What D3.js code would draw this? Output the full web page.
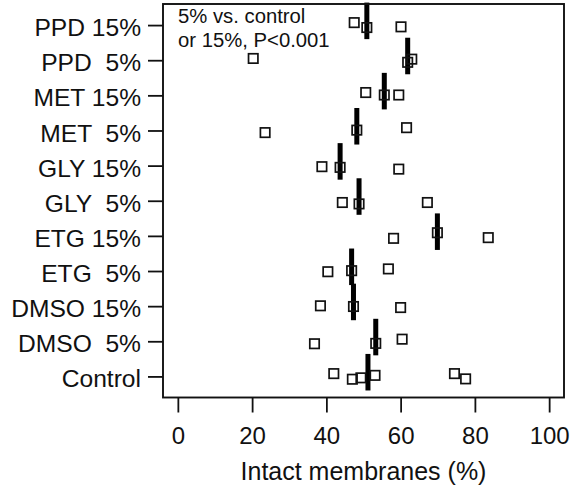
<!DOCTYPE html>
<html>
<head>
<meta charset="utf-8">
<script src="https://cdn.jsdelivr.net/npm/d3@7"></script>
<style>
  body { margin: 0; background: #fff; }
  text { font-family: "Liberation Sans", Arial, Helvetica, sans-serif; fill: #111; }
</style>
</head>
<body>
<div id="chart"></div>
<script>
// Data (bottom row first)
var groups = ["Control", "DMSO  5%", "DMSO 15%", "ETG  5%", "ETG 15%", "GLY  5%", "GLY 15%", "MET  5%", "MET 15%", "PPD  5%", "PPD 15%"];

var values = [
  [42.0, 47.0, 49.3, 53.1, 74.5, 77.5],
  [36.8, 53.3, 60.4],
  [38.4, 47.3, 60.0],
  [40.4, 46.8, 56.7],
  [58.1, 69.9, 83.6],
  [44.3, 48.8, 67.2],
  [38.8, 43.7, 59.5],
  [23.5, 48.2, 61.6],
  [50.6, 55.6, 59.5],
  [20.3, 61.9, 63.0],
  [47.5, 50.9, 60.1]
];

// vertical jitter of each point, in row steps (as plotted)
var jitter = [
  [-0.08, 0.08, 0.04, -0.03, -0.08, 0.07],
  [0.07, 0.06, -0.06],
  [-0.01, 0.01, 0.04],
  [0.02, -0.01, -0.06],
  [0.07, -0.09, 0.05],
  [0.05, 0.09, 0.05],
  [0.03, 0.05, 0.10],
  [0.06, -0.01, -0.08],
  [-0.08, -0.01, -0.01],
  [-0.05, 0.06, -0.03],
  [-0.07, 0.07, 0.05]
];

var xTicks = [0, 20, 40, 60, 80, 100];
var note = ["5% vs. control", "or 15%, P<0.001"];
var xTitle = "Intact membranes (%)";

// Variables
var width = 573,
	height = 490,
	box = { left: 163, right: 564, top: 4, bottom: 397.5 },
	svg = d3.select("#chart")
	.append("svg")
	.attr("width", width)
	.attr("height", height),
	x = d3.scaleLinear()
	.domain([-4, 104])
	.range([box.left, box.right]),
	y = d3.scalePoint()
	.domain(groups)
	.range([box.bottom, box.top])
	.padding(0.6);

var step = y.step();

var points = [];
groups.forEach(function(g, i) {
	values[i].forEach(function(v, j) {
		points.push({ group: g, value: v, jit: jitter[i][j] });
	});
});

var medians = groups.map(function(g, i) {
	return { group: g, value: d3.median(values[i]) };
});

// median bars
svg.append("g")
	.selectAll("rect")
	.data(medians)
	.enter()
	.append("rect")
	.attr("x", function(d) { return x(d.value) - 2.5; })
	.attr("y", function(d) { return y(d.group) - 0.12 * step - 0.52 * step; })
	.attr("width", 5)
	.attr("height", 1.04 * step)
	.style("fill", "#000");

// points
var sq = 9.4;
svg.append("g")
	.selectAll("rect")
	.data(points)
	.enter()
	.append("rect")
	.attr("x", function(d) { return x(d.value) - sq / 2; })
	.attr("y", function(d) { return y(d.group) + d.jit * step - sq / 2; })
	.attr("width", sq)
	.attr("height", sq)
	.style("fill", "none")
	.style("stroke", "#111")
	.style("stroke-width", 1.7);

// frame
svg.append("rect")
	.attr("x", box.left)
	.attr("y", box.top)
	.attr("width", box.right - box.left)
	.attr("height", box.bottom - box.top)
	.style("fill", "none")
	.style("stroke", "#111")
	.style("stroke-width", 1.9);

// axes
var xAxis = d3.axisBottom(x)
	.tickValues(xTicks)
	.tickSize(15)
	.tickFormat(d3.format("d"));

var gx = svg.append("g")
	.attr("transform", "translate(0," + box.bottom + ")")
	.call(xAxis);
gx.select(".domain").remove();
gx.selectAll("line").style("stroke", "#111").style("stroke-width", 1.8);
gx.selectAll("text")
	.attr("y", 46)
	.attr("dy", 0)
	.style("font-size", "24px")
	.style("font-family", "'Liberation Sans', Arial, sans-serif")
	.style("fill", "#111");

var yAxis = d3.axisLeft(y)
	.tickSize(15)
	.tickPadding(7);

var gy = svg.append("g")
	.attr("transform", "translate(" + box.left + ",0)")
	.call(yAxis);
gy.select(".domain").remove();
gy.selectAll("line").style("stroke", "#111").style("stroke-width", 1.8);
gy.selectAll("text")
	.attr("dy", "0.43em")
	.style("white-space", "pre")
	.style("font-size", "24.6px")
	.style("font-family", "'Liberation Sans', Arial, sans-serif")
	.style("fill", "#111");

// axis title
svg.append("text")
	.attr("x", (box.left + box.right) / 2)
	.attr("y", 480)
	.attr("text-anchor", "middle")
	.style("font-size", "25px")
	.text(xTitle);

// note
svg.selectAll(".note")
	.data(note)
	.enter()
	.append("text")
	.attr("class", "note")
	.attr("x", 178)
	.attr("y", function(d, i) { return 23.3 + i * 23.4; })
	.style("font-size", "20.3px")
	.text(function(d) { return d; });
</script>
</body>
</html>
